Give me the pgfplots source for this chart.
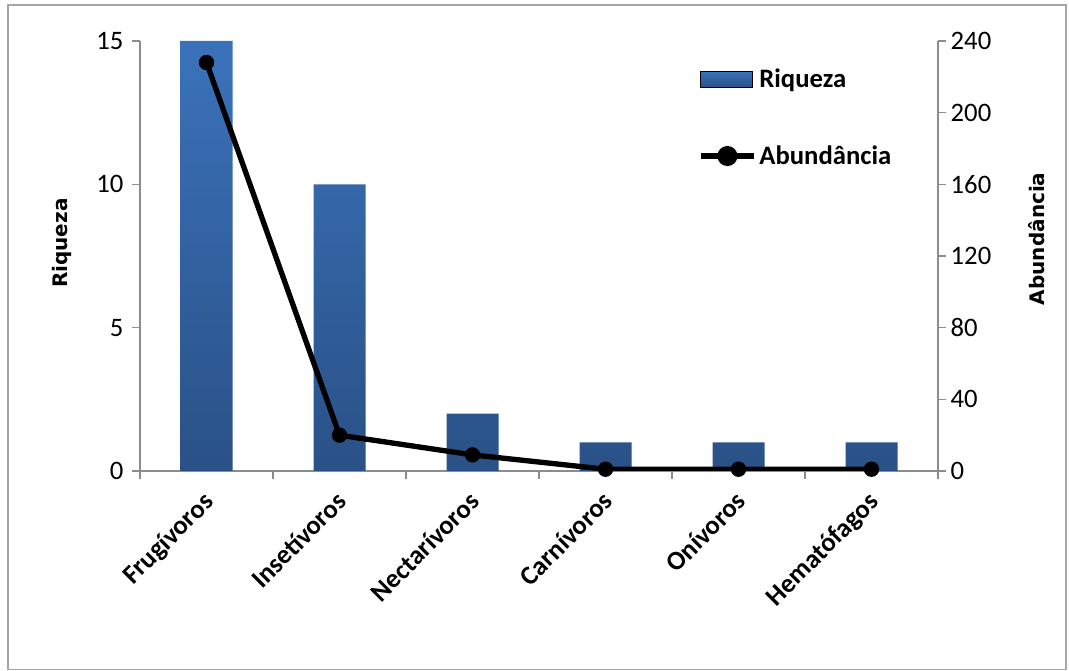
\documentclass[border=0pt]{standalone}
\usepackage{fontspec}
\setmainfont{Carlito}
\newfontfamily\dejavu{DejaVu Sans}
\usepackage{pgfplots}
\pgfplotsset{compat=1.18}
\definecolor{bartop}{HTML}{3A72BA}
\definecolor{barbot}{HTML}{2A5187}
\definecolor{axgray}{HTML}{8C8C8C}
\definecolor{framegray}{HTML}{A6A6A6}
\begin{document}
\begin{tikzpicture}
\path[use as bounding box] (-105pt,-149.25pt) rectangle (696.75pt,353.25pt);
\draw[framegray, line width=1pt] (-99pt,-149pt) rectangle (694.5pt,349.5pt);
\pgfplotsset{
 common/.style={scale only axis, width=598.5pt, height=322.5pt,
   xmin=-0.5, xmax=5.5, at={(0pt,0pt)}, anchor=south west,
   /pgf/number format/assume math mode=true,
   tick label style={font=\fontsize{20}{24}\selectfont},
   axis line style={axgray, line width=1pt},
   major tick style={axgray, line width=1pt},
   tick align=outside, major tick length=6pt,
   ylabel style={font=\dejavu\bfseries\fontsize{15}{18}\selectfont}}
}
\begin{axis}[common, ymin=0, ymax=15, ytick={0,5,10,15},
  axis x line*=bottom, axis y line*=left,
  yticklabel style={xshift=-3pt},
  xtick={-0.5,0.5,...,5.5}, xticklabels={},
  extra x ticks={0,1,2,3,4,5},
  extra x tick labels={Frugívoros,Insetívoros,Nectarívoros,Carnívoros,Onívoros,Hematófagos},
  extra x tick style={major tick length=0pt,
     tick label style={xshift=-3.3pt, yshift=-9.5pt, rotate=45, anchor=north east, font=\fontsize{20}{24}\selectfont\bfseries}},
  ylabel={Riqueza},
  ylabel style={at={(axis description cs:-0.098,0.53)}, anchor=center}]
\addplot[ybar, bar width=39pt, draw=none, top color=bartop, bottom color=barbot]
  coordinates {(0,15) (1,10) (2,2) (3,1) (4,1) (5,1)};
\end{axis}
\begin{axis}[common, ymin=0, ymax=240, ytick={0,40,80,120,160,200,240},
  axis y line*=right, axis x line=none,
  ylabel={Abundância},
  ylabel style={at={(axis description cs:1.124,0.54)}, anchor=center},
  legend style={at={(axis description cs:0.694,0.948)}, anchor=north west, draw=none, fill=none,
    font=\fontsize{20}{24}\selectfont\bfseries, row sep=38pt},
  legend cell align=left]
\addlegendimage{legend image code/.code={\fill[top color=bartop, bottom color=barbot] (0pt,-6pt) rectangle (39pt,6pt);}}
\addlegendentry{Riqueza}
\addplot[black, line width=4pt, mark=*, mark size=5.5pt, mark options={line width=0.5pt, fill=black},
  legend image code/.code={\draw[black, line width=4pt] (0pt,0pt) -- (40pt,0pt); \fill[black] (20pt,0pt) circle (5.5pt);}]
  coordinates {(0,228) (1,20) (2,9) (3,1) (4,1) (5,1)};
\addlegendentry{Abundância}
\end{axis}
\end{tikzpicture}
\end{document}
